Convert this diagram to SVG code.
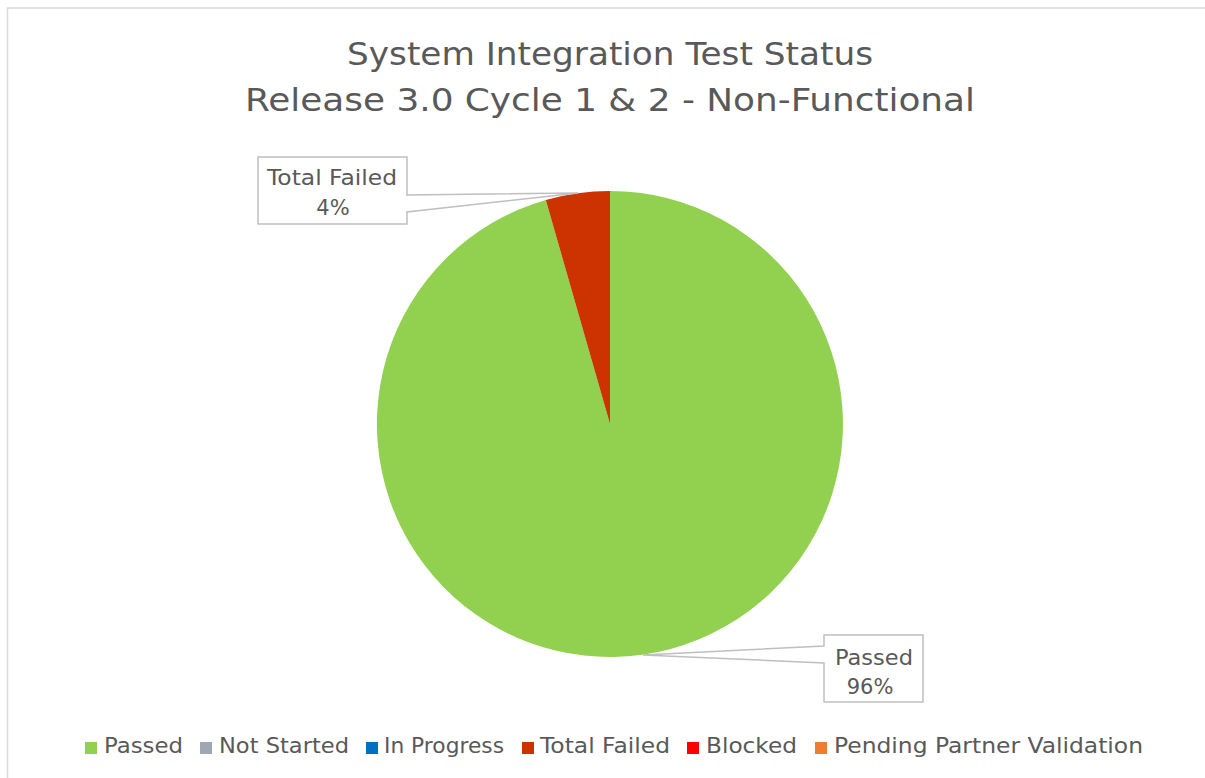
<svg xmlns="http://www.w3.org/2000/svg" width="1205" height="778" viewBox="0 0 1205 778">
<style>
text{font-family:"Century Gothic","DejaVu Sans","Noto Sans",sans-serif;fill:#595959;}
.title{font-size:32px;text-anchor:middle;}
.lbl{font-size:21px;text-anchor:middle;}
.leg{font-size:21px;}
.callout{fill:#ffffff;stroke:#bfbfbf;stroke-width:1.5;}
</style>
<rect x="0" y="0" width="1205" height="778" fill="#ffffff"/>
<path d="M7.5,778 V8 H1205" fill="none" stroke="#d9d9d9" stroke-width="1.5"/>
<g id="title">
<text class="title" x="610" y="65" textLength="526" lengthAdjust="spacingAndGlyphs">System Integration Test Status</text>
<text class="title" x="610" y="111" textLength="730" lengthAdjust="spacingAndGlyphs">Release 3.0 Cycle 1 &amp; 2 - Non-Functional</text>
</g>
<g id="pie">
<path id="slice-passed" d="M610,424 L610,191 A233,233 0 1 1 545.8,200 Z" fill="#92d050"/>
<path id="slice-failed" d="M610,424 L545.8,200 A233,233 0 0 1 610,191 Z" fill="#cc3300"/>
</g>
<g id="label-failed">
<path class="callout" d="M258,157 H407 V195 L578,193 L407,212 V224 H258 Z"/>
<text class="lbl" x="332" y="185" textLength="130" lengthAdjust="spacingAndGlyphs">Total Failed</text>
<text class="lbl" x="333" y="215">4%</text>
</g>
<g id="label-passed">
<path class="callout" d="M824,635 H923 V702 H824 V663 L643,655 L824,646 Z"/>
<text class="lbl" x="874" y="665" textLength="78" lengthAdjust="spacingAndGlyphs">Passed</text>
<text class="lbl" x="870" y="694">96%</text>
</g>
<g id="legend">
<rect x="85" y="742" width="12" height="12" fill="#92d050"/>
<text class="leg" x="104" y="753" textLength="79" lengthAdjust="spacingAndGlyphs">Passed</text>
<rect x="200" y="742" width="12" height="12" fill="#9ea7b3"/>
<text class="leg" x="219" y="753" textLength="130" lengthAdjust="spacingAndGlyphs">Not Started</text>
<rect x="366" y="742" width="12" height="12" fill="#0070c0"/>
<text class="leg" x="384" y="753" textLength="120" lengthAdjust="spacingAndGlyphs">In Progress</text>
<rect x="522" y="742" width="12" height="12" fill="#cc3300"/>
<text class="leg" x="540" y="753" textLength="130" lengthAdjust="spacingAndGlyphs">Total Failed</text>
<rect x="687" y="742" width="12" height="12" fill="#ff0000"/>
<text class="leg" x="706" y="753" textLength="91" lengthAdjust="spacingAndGlyphs">Blocked</text>
<rect x="815" y="742" width="12" height="12" fill="#ed7d31"/>
<text class="leg" x="834" y="753" textLength="309" lengthAdjust="spacingAndGlyphs">Pending Partner Validation</text>
</g>
</svg>
